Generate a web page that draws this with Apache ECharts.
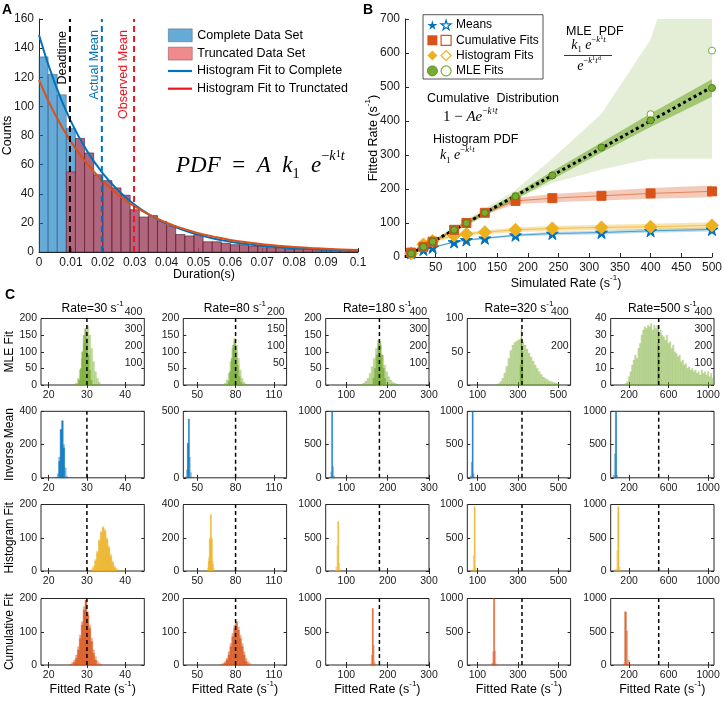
<!DOCTYPE html>
<html><head><meta charset="utf-8"><title>Deadtime figure</title>
<script src="https://cdn.jsdelivr.net/npm/echarts@6.0.0/dist/echarts.min.js"></script>
<style>html,body{margin:0;padding:0;background:#fff}#main{width:725px;height:703px}</style>
</head><body><div id="main"></div>
<script>
// ================= DATA =================
// ---- Panel A : duration histograms ----
const aBinStart = 0;
const aBinWidth = 0.002857;
const aComplete  = [134,122,108,85,78,68,53,49,44,39,29,24,25,21,18,12,11,12,7,7,6,5,5,4,4,3,3,2,2,2,2,1,1,1,1];
const aTruncated = [0,0,0,55,78,68,53,49,44,39,29,24,25,21,18,12,11,12,7,7,6,5,5,4,4,3,3,2,2,2,2,1,1,1,1];
const aFitT = [0,0.005,0.01,0.015,0.02,0.025,0.03,0.035,0.04,0.045,0.05,0.055,0.06,0.065,0.07,0.075,0.08,0.085,0.09,0.095,0.1];
const aFitComplete  = [149,115.6,89.7,69.6,54.0,41.9,32.5,25.2,19.6,15.2,11.8,9.1,7.1,5.5,4.3,3.3,2.6,2.0,1.6,1.2,0.9];
const aFitTruncated = [118,94.6,75.8,60.8,48.7,39.0,31.3,25.1,20.1,16.1,12.9,10.4,8.3,6.7,5.4,4.3,3.4,2.8,2.2,1.8,1.4];
const aDeadtime = 0.0097, aActualMean = 0.0197, aObservedMean = 0.0298;

// ---- Panel B : fitted vs simulated rate ----
const bRates   = [10,30,45,80,100,130,180,240,320,400,500];
const bMeans   = [12,22,28,44,50,55,64,69,72,77,81];
const bMeansLo = [10,20,26,41,47,52,60,64,67,71,75];
const bMeansHi = [14,24,30,47,53,58,68,74,77,83,87];
const bCum     = [13,30,45,80,100,130,165,173,180,187,193];
const bCumLo   = [11,27,42,76,95,124,156,161,166,171,176];
const bCumHi   = [15,33,48,84,105,136,174,185,194,203,210];
const bHist    = [10,37,47,63,68,73,80,84,87,89,93];
const bHistLo  = [7,33,43,58,63,67,73,77,79,80,82];
const bHistHi  = [13,41,51,68,73,79,87,91,95,98,102];
const bMle     = [10,30,45,80,100,130,178,240,322,402,497];
const bMleLo   = [8,27,42,75,94,123,169,228,307,382,471];
const bMleHi   = [12,33,48,85,106,137,187,252,337,422,523];
const bMleHollow = [10,30,45,80,100,130,180,240,322,420,607];
const bMleWideLo = [8,26,40,72,90,120,172,218,257,289,289];
const bMleWideHi = [12,34,50,88,110,142,197,290,421,640,1185];
const bIdentity = [[0,0],[500,500]];

// ---- Panel C : fitted-rate histograms ----
const cRates  = [30,80,180,320,500];
const cXMin   = [18,39,50,50,14];
const cXMax   = [45,120,300,560,1060];
const cXTicks = [[20,30,40],[50,80,110],[100,200,300],[100,300,500],[200,600,1000]];
const cRowNames = ['MLE Fit','Inverse Mean','Histogram Fit','Cumulative Fit'];
const cYMax  = [[200,200,200,100,40],[400,500,1000,1000,1000],[200,400,1000,1000,1000],[200,200,1000,1000,1000]];
const cYStep = [[50,50,50,50,10],[200,500,500,500,500],[100,200,500,500,500],[100,100,500,500,500]];
const mleRightMax  = [400,200,400,400,400];
const mleRightStep = [100,50,100,200,100];

// MLE row (light = broad estimator, dark = narrow estimator)
const mleStartL = [27,71,135,200,160];
const mleWidthL = [0.5,1.5,5,10,16];
const mleCountsL = [
  [6,20,45,80,125,165,178,150,110,70,40,20,8],
  [5,15,35,70,110,140,120,80,45,20,8,3],
  [3,6,12,20,35,55,80,110,135,120,90,60,40,25,15,8,5,3],
  [2,5,10,18,28,40,52,60,64,66,68,70,65,60,54,48,42,36,30,25,20,16,12,10,8,6,5,4,3,2,1],
  [1,2,5,8,12,15,18,16,22,25,30,33,35,34,36,35,37,33,36,34,36,31,33,30,29,27,30,25,26,22,24,20,19,17,18,14,15,12,13,10,11,9,10,8,9,7,8,6,9,7,8,6,8,5,7,4]
];
const mleStartD = [27.8,74,164,310,488];
const mleWidthD = [0.4,1.2,4,5,6];
const mleCountsD = [
  [15,50,100,150,170,140,90,45,15],
  [10,40,80,120,135,100,60,25,8],
  [20,50,90,125,130,90,50,20],
  [30,84,50],
  [25,36,20]
];
// Inverse mean row
const invStart = [21.8,40.6,59.6,64,38];
const invWidth = [0.4,0.8,2.4,5,12];
const invCountsL = [[5,25,125,290,343,200,60,10],[8,60,260,442,156,40,8],[10,90,1000,170,30],[30,236,1000,60,5],[40,360,1000,40]];
const invCountsD = [[0,0,100,290,343,180,0,0],[0,0,260,442,0,0,0],[0,0,1000,0,0],[0,0,1000,0,0],[0,0,1000,0]];
// Histogram-fit row
const hisStart = [31,57,72,74,62];
const hisWidth = [0.5,0.8,2.4,5,12];
const hisCountsL = [[5,15,35,60,95,120,134,125,100,75,50,30,15,8,4,2,1,1],[5,20,80,200,339,200,60,15,3],[10,60,380,744,120,20],[20,234,965,50,10],[30,311,965,60,8]];
const hisCountsD = [[0,10,30,55,90,115,130,120,95,70,45,25,10,0,0,0,0,0],[0,0,60,190,339,190,40,0,0],[0,0,0,744,0,0],[0,0,965,0,0],[0,0,965,0,0]];
// Cumulative-fit row
const cumStart = [25.5,68,158,170,140];
const cumWidth = [0.5,1.5,2.4,5,16];
const cumCountsL = [[3,8,15,30,55,90,130,175,195,160,120,80,45,25,12,5,2],[2,5,10,20,40,65,95,120,130,115,90,65,40,20,10,5],[20,150,850,300,40],[30,200,1000,210,20],[20,800,510,75,10]];
const cumCountsD = [[0,0,8,20,45,80,120,165,195,150,110,70,35,15,0,0,0],[0,0,5,15,30,55,85,110,130,105,80,55,30,10,0,0],[0,0,850,0,0],[0,0,1000,0,0],[0,800,0,0,0]];

// ================= STYLE / LAYOUT =================
const FONT = "'Liberation Sans', Arial, Helvetica, sans-serif";
const SERIF = "'Liberation Serif', 'DejaVu Serif', 'Times New Roman', serif";
const AX = '#262626';
const BLUE = '#0072BD', ORANGE = '#D95319', YELLOW = '#EDB120', GREEN = '#77AC30', RED = '#F0141E';
const rowColors = [[119,172,48],[0,114,189],[237,177,32],[217,83,25]];
const cLeft = [41,183.3,325.7,467.3,610.7], cW = 103.3;
const cTop = [318.5,411.3,504.5,598.5], cH = 66.5;

const grid = [], xAxis = [], yAxis = [], series = [], graphic = [];
const plainNum = v => String(v);

function axisBase(fs) {
  return {
    axisLine: {show: true, onZero: false, lineStyle: {color: AX, width: 1}},
    axisTick: {show: true, inside: true, length: 4, lineStyle: {color: AX, width: 1}},
    axisLabel: {color: '#1a1a1a', fontSize: fs, fontFamily: FONT, margin: 5, formatter: plainNum},
    splitLine: {show: false}
  };
}
function histData(start, width, counts) {
  return counts.map((c, i) => [start + i * width, start + (i + 1) * width, c]);
}
function histRender(fill, stroke, lw) {
  return function (params, api) {
    const c = api.value(2);
    if (!c) return null;
    const p0 = api.coord([api.value(0), 0]);
    const p1 = api.coord([api.value(1), c]);
    return {type: 'rect', shape: {x: p0[0], y: p1[1], width: p1[0] - p0[0], height: p0[1] - p1[1]},
      style: {fill: fill, stroke: stroke, lineWidth: lw}};
  };
}
function histSeries(name, xi, yi, start, width, counts, fill, stroke, lw, z) {
  return {type: 'custom', name: name, xAxisIndex: xi, yAxisIndex: yi, z: z, silent: true,
    itemStyle: {color: fill}, encode: {x: [0, 1], y: 2},
    data: histData(start, width, counts), renderItem: histRender(fill, stroke, lw)};
}
function rgba(c, a) { return 'rgba(' + c[0] + ',' + c[1] + ',' + c[2] + ',' + a + ')'; }
function textEl(x, y, text, o) {
  o = o || {};
  const st = Object.assign({text: text, fill: o.fill || '#000', fontSize: o.fontSize || 12,
    fontFamily: o.fontFamily || FONT, fontWeight: o.fontWeight || 'normal', fontStyle: o.fontStyle || 'normal',
    textAlign: o.align || 'center', textVerticalAlign: o.valign || 'middle',
    align: o.align || 'center', verticalAlign: o.valign || 'middle'}, o.rich ? {rich: o.rich} : {});
  return {type: 'text', x: x, y: y, rotation: o.rotation || 0, z: 100, style: st};
}
const unitRich = {
  b: {fontSize: 12.5, fontFamily: FONT, lineHeight: 16, verticalAlign: 'bottom'},
  p: {fontSize: 8, fontFamily: FONT, lineHeight: 10, verticalAlign: 'top'}
};
const mathRich = (fs) => ({
  m: {fontSize: fs, fontFamily: SERIF, fontStyle: 'italic', lineHeight: fs * 1.45, verticalAlign: 'middle'},
  r: {fontSize: fs, fontFamily: SERIF, lineHeight: fs * 1.45, verticalAlign: 'middle'},
  s: {fontSize: fs * 0.62, fontFamily: SERIF, lineHeight: fs * 0.62, verticalAlign: 'bottom', padding: [0, 0, fs * 0.05, 0]},
  p: {fontSize: fs * 0.62, fontFamily: SERIF, fontStyle: 'italic', lineHeight: fs * 0.62, verticalAlign: 'top'},
  pr: {fontSize: fs * 0.62, fontFamily: SERIF, lineHeight: fs * 0.62, verticalAlign: 'top'},
  ps: {fontSize: fs * 0.45, fontFamily: SERIF, lineHeight: fs * 0.95, verticalAlign: 'top'}
});

// ================= PANEL A =================
grid.push({left: 39, top: 19, width: 319, height: 233});
xAxis.push(Object.assign(axisBase(12), {gridIndex: 0, type: 'value', min: 0, max: 0.1, interval: 0.01}));
xAxis[0].axisLabel.formatter = v => String(Math.round(v * 100) / 100);
yAxis.push(Object.assign(axisBase(12), {gridIndex: 0, type: 'value', min: 0, max: 160, interval: 20}));

series.push(histSeries('Complete Data Set', 0, 0, aBinStart, aBinWidth, aComplete, 'rgba(0,114,189,0.6)', 'rgba(20,40,70,0.55)', 0.6, 2));
series.push(histSeries('Truncated Data Set', 0, 0, aBinStart, aBinWidth, aTruncated, 'rgba(229,54,58,0.58)', 'rgba(60,10,20,0.55)', 0.6, 3));
series.push({type: 'line', name: 'Histogram Fit to Complete', xAxisIndex: 0, yAxisIndex: 0, z: 5, smooth: true, symbol: 'none',
  lineStyle: {color: BLUE, width: 2}, itemStyle: {color: BLUE}, data: aFitT.map((t, i) => [t, aFitComplete[i]])});
series.push({type: 'line', name: 'Histogram Fit to Trunctated', xAxisIndex: 0, yAxisIndex: 0, z: 6, smooth: true, symbol: 'none',
  lineStyle: {color: ORANGE, width: 2}, itemStyle: {color: ORANGE}, data: aFitT.map((t, i) => [t, aFitTruncated[i]])});
[[aDeadtime, '#000'], [aActualMean, BLUE], [aObservedMean, RED]].forEach(d => {
  series.push({type: 'line', xAxisIndex: 0, yAxisIndex: 0, z: 7, symbol: 'none', silent: true,
    lineStyle: {color: d[1], width: 2, type: [6, 4]}, data: [[d[0], 0], [d[0], 160]]});
});
graphic.push(textEl(62.5, 31, 'Deadtime', {rotation: Math.PI / 2, align: 'right', fontSize: 12.5}));
graphic.push(textEl(94.5, 30, 'Actual Mean', {rotation: Math.PI / 2, align: 'right', fontSize: 12.5, fill: BLUE}));
graphic.push(textEl(123.5, 30, 'Observed Mean', {rotation: Math.PI / 2, align: 'right', fontSize: 12.5, fill: RED}));
graphic.push(textEl(176, 166, '{m|PDF}{r|  =  }{m|A  k}{s|1}{m|  e}{pr|−}{p|k}{ps|1}{p|t}', {align: 'left', rich: mathRich(23), fontSize: 23}));
graphic.push(textEl(8, 135.5, 'Counts', {rotation: Math.PI / 2, fontSize: 12.5}));
graphic.push(textEl(204, 275, 'Duration(s)', {fontSize: 12.5}));
graphic.push(textEl(7, 10, 'A', {fontSize: 14, fontWeight: 'bold'}));

// ================= PANEL B =================
grid.push({left: 405, top: 19, width: 308, height: 238});
xAxis.push(Object.assign(axisBase(12), {gridIndex: 1, type: 'value', min: 0, max: 500, interval: 50}));
xAxis[1].axisLabel.showMinLabel = false;
yAxis.push(Object.assign(axisBase(12), {gridIndex: 1, type: 'value', min: 0, max: 700, interval: 100}));

function bandSeries(lo, hi, fill, z) {
  return {type: 'custom', xAxisIndex: 1, yAxisIndex: 1, z: z, silent: true, clip: true,
    encode: {x: 0, y: [1, 2]},
    data: bRates.map((x, i) => [x, lo[i], hi[i]]),
    renderItem: function (params, api) {
      if (params.dataIndexInside !== 0) return null;
      const n = params.dataInsideLength, top = [], bot = [];
      for (let i = 0; i < n; i++) {
        const x = api.value(0, i);
        top.push(api.coord([x, api.value(2, i)]));
        bot.push(api.coord([x, api.value(1, i)]));
      }
      return {type: 'polygon', shape: {points: top.concat(bot.reverse())}, style: {fill: fill}};
    }};
}
series.push(bandSeries(bMleWideLo, bMleWideHi, 'rgba(119,172,48,0.2)', 1));
series.push(bandSeries(bMeansLo, bMeansHi, 'rgba(0,114,189,0.25)', 2));
series.push(bandSeries(bHistLo, bHistHi, 'rgba(237,177,32,0.35)', 2));
series.push(bandSeries(bCumLo, bCumHi, 'rgba(217,83,25,0.3)', 2));
series.push(bandSeries(bMleLo, bMleHi, 'rgba(119,172,48,0.6)', 2));
function bLine(vals, color, z) {
  return {type: 'line', xAxisIndex: 1, yAxisIndex: 1, z: z, symbol: 'none', silent: true,
    lineStyle: {color: color, width: 1}, data: bRates.map((x, i) => [x, vals[i]])};
}
series.push(bLine(bMeans, 'rgba(0,114,189,0.6)', 3));
series.push(bLine(bHist, 'rgba(237,177,32,0.7)', 3));
series.push(bLine(bCum, 'rgba(217,83,25,0.6)', 3));
series.push({type: 'line', xAxisIndex: 1, yAxisIndex: 1, z: 4, symbol: 'none', silent: true,
  lineStyle: {color: '#000', width: 3, type: [3, 3]}, data: bIdentity});
const STAR = 'path://M50,0 L61,35 L98,35 L68,57 L79,91 L50,70 L21,91 L32,57 L2,35 L39,35 Z';
function bScatter(name, vals, symbol, size, fill, stroke, z) {
  return {type: 'scatter', name: name, xAxisIndex: 1, yAxisIndex: 1, z: z, symbol: symbol, symbolSize: size, silent: true,
    itemStyle: {color: fill, borderColor: stroke, borderWidth: 1, opacity: 1},
    data: vals ? bRates.map((x, i) => [x, vals[i]]) : []};
}
series.push(bScatter('Means', bMeans, STAR, 12, BLUE, BLUE, 6));
series.push(bScatter('Histogram Fits', bHist, 'diamond', 13, YELLOW, YELLOW, 6));
series.push(bScatter('Cumulative Fits', bCum, 'rect', 9, ORANGE, ORANGE, 7));
series.push(bScatter('MLE Fits', bMle, 'circle', 7, GREEN, '#4f7f1d', 8));
series.push(bScatter('Means (o)', null, STAR, 12, '#fff', BLUE, 9));
series.push(bScatter('Cumulative Fits (o)', null, 'rect', 9, '#fff', ORANGE, 9));
series.push(bScatter('Histogram Fits (o)', null, 'diamond', 12, '#fff', YELLOW, 9));
series.push(bScatter('MLE Fits (o)', bMleHollow, 'circle', 7, '#fff', GREEN, 5));

graphic.push({type: 'rect', z: 50, shape: {x: 423, y: 14.7, width: 120, height: 64.3},
  style: {fill: '#fff', stroke: AX, lineWidth: 0.8}});
graphic.push(textEl(566, 31.7, 'MLE  PDF', {align: 'left', fontSize: 12.5}));
graphic.push(textEl(588.5, 45, '{m|k}{s|1}{m| e}{pr|−}{p|k}{ps|1}{p|t}', {rich: mathRich(14), fontSize: 14}));
graphic.push({type: 'line', z: 100, shape: {x1: 564, y1: 55.5, x2: 612, y2: 55.5}, style: {stroke: '#000', lineWidth: 0.8}});
graphic.push(textEl(589, 66, '{m|e}{pr|−}{p|k}{ps|1}{p|t}{ps|d}', {rich: mathRich(14), fontSize: 14}));
graphic.push(textEl(427, 98.7, 'Cumulative  Distribution', {align: 'left', fontSize: 12.5}));
graphic.push(textEl(443, 117.5, '{r|1 − }{m|Ae}{pr|−}{p|k}{ps|1}{p|t}', {align: 'left', rich: mathRich(15), fontSize: 15}));
graphic.push(textEl(433, 140, 'Histogram PDF', {align: 'left', fontSize: 12.5}));
graphic.push(textEl(440, 155.5, '{m|k}{s|1}{m| e}{pr|−}{p|k}{ps|1}{p|t}', {align: 'left', rich: mathRich(14), fontSize: 14}));
graphic.push(textEl(566, 282, '{b|Simulated Rate (s}{p|-1}{b|)}', {rich: unitRich, fontSize: 12.5}));
graphic.push(textEl(372, 138, '{b|Fitted Rate (s}{p|-1}{b|)}', {rotation: Math.PI / 2, rich: unitRich, fontSize: 12.5}));
graphic.push(textEl(368, 10, 'B', {fontSize: 14, fontWeight: 'bold'}));

// ================= PANEL C =================
const rowStart = [mleStartL, invStart, hisStart, cumStart];
const rowWidth = [mleWidthL, invWidth, hisWidth, cumWidth];
const rowL = [mleCountsL, invCountsL, hisCountsL, cumCountsL];
const rowDStart = [mleStartD, invStart, hisStart, cumStart];
const rowDWidth = [mleWidthD, invWidth, hisWidth, cumWidth];
const rowD = [mleCountsD, invCountsD, hisCountsD, cumCountsD];

for (let r = 0; r < 4; r++) {
  for (let c = 0; c < 5; c++) {
    grid.push({left: cLeft[c], top: cTop[r], width: cW, height: cH, show: true,
      borderColor: AX, borderWidth: 1, backgroundColor: 'rgba(0,0,0,0)'});
  }
}
for (let c = 0; c < 5; c++) {
  grid.push({left: cLeft[c], top: 312, width: cW, height: 68});
}
for (let r = 0; r < 4; r++) {
  for (let c = 0; c < 5; c++) {
    const gi = 2 + r * 5 + c;
    const xa = Object.assign(axisBase(10.5), {gridIndex: gi, type: 'value', min: cXMin[c], max: cXMax[c]});
    xa.axisLine.show = false;
    xa.axisTick = {show: true, inside: true, length: 3, lineStyle: {color: AX}, customValues: cXTicks[c]};
    xa.axisLabel.customValues = cXTicks[c];
    xa.axisLabel.margin = 5;
    xAxis.push(xa);
    const ya = Object.assign(axisBase(10.5), {gridIndex: gi, type: 'value', min: 0, max: cYMax[r][c], interval: cYStep[r][c]});
    ya.axisLine.show = false;
    ya.axisTick.length = 3;
    ya.axisLabel.margin = 4;
    yAxis.push(ya);
  }
}
for (let r = 0; r < 4; r++) {
  for (let c = 0; c < 5; c++) {
    const gi = 2 + r * 5 + c;
    xAxis.push({gridIndex: gi, type: 'value', position: 'top', min: cXMin[c], max: cXMax[c],
      axisLine: {show: false}, splitLine: {show: false},
      axisTick: {show: true, inside: true, length: 3, lineStyle: {color: AX}, customValues: cXTicks[c]},
      axisLabel: {show: false, customValues: cXTicks[c]}});
    yAxis.push({gridIndex: gi, type: 'value', position: 'right', min: 0, max: cYMax[r][c], interval: cYStep[r][c],
      axisLine: {show: false}, splitLine: {show: false},
      axisTick: {show: true, inside: true, length: 3, lineStyle: {color: AX}}, axisLabel: {show: false}});
  }
}
for (let c = 0; c < 5; c++) {
  xAxis.push({gridIndex: 22 + c, type: 'value', show: false, min: 0, max: 1});
  yAxis.push({gridIndex: 22 + c, type: 'value', position: 'right', min: 0, max: mleRightMax[c], interval: mleRightStep[c],
    axisLine: {show: false}, axisTick: {show: false}, splitLine: {show: false},
    axisLabel: {inside: true, showMinLabel: false, fontSize: 10.5, fontFamily: FONT, color: '#1a1a1a', margin: 2, formatter: plainNum}});
}
for (let r = 0; r < 4; r++) {
  for (let c = 0; c < 5; c++) {
    const ai = 2 + r * 5 + c;
    const col = rowColors[r];
    series.push(histSeries(null, ai, ai, rowStart[r][c], rowWidth[r][c], rowL[r][c], rgba(col, 0.45), rgba(col, 0.5), 0.3, 2));
    series.push(histSeries(null, ai, ai, rowDStart[r][c], rowDWidth[r][c], rowD[r][c], rgba(col, 0.72), rgba(col, 0.8), 0.3, 3));
    series.push({type: 'line', xAxisIndex: ai, yAxisIndex: ai, z: 5, symbol: 'none', silent: true,
      lineStyle: {color: '#000', width: 1.5, type: [4, 3]},
      data: [[cRates[c], 0], [cRates[c], cYMax[r][c]]]});
  }
}
for (let c = 0; c < 5; c++) {
  const cx = cLeft[c] + cW / 2;
  graphic.push(textEl(cx, 307, '{b|Rate=' + cRates[c] + ' s}{p|-1}', {rich: {
    b: {fontSize: 12, fontFamily: FONT, lineHeight: 15, verticalAlign: 'bottom'},
    p: {fontSize: 8, fontFamily: FONT, lineHeight: 9, verticalAlign: 'top'}}, fontSize: 12}));
  graphic.push(textEl(cx, 688, '{b|Fitted Rate (s}{p|-1}{b|)}', {rich: unitRich, fontSize: 12.5}));
}
for (let r = 0; r < 4; r++) {
  graphic.push(textEl(10, cTop[r] + cH / 2, cRowNames[r], {rotation: Math.PI / 2, fontSize: 12}));
}
graphic.push(textEl(10, 295, 'C', {fontSize: 14, fontWeight: 'bold'}));

// ================= LEGENDS =================
const legTxt = {fontSize: 12.5, fontFamily: FONT, color: '#000'};
const legBText = {fontSize: 12, fontFamily: FONT, lineHeight: 10};
const legends = [
  {left: 168, top: 28.5, padding: 0, orient: 'vertical', itemWidth: 24, itemHeight: 13, itemGap: 4.7, selectedMode: false,
    textStyle: Object.assign({lineHeight: 13}, legTxt),
    data: [
      {name: 'Complete Data Set', icon: 'rect', itemStyle: {color: 'rgba(0,114,189,0.6)', borderColor: 'rgba(20,40,70,0.5)', borderWidth: 0.6}},
      {name: 'Truncated Data Set', icon: 'rect', itemStyle: {color: 'rgba(229,54,58,0.58)', borderColor: 'rgba(60,10,20,0.5)', borderWidth: 0.6}}
    ]},
  {left: 168, top: 63.5, padding: 0, orient: 'vertical', itemWidth: 24, itemHeight: 2.2, itemGap: 2.7, selectedMode: false,
    textStyle: Object.assign({lineHeight: 15}, legTxt),
    data: [
      {name: 'Histogram Fit to Complete', icon: 'rect', itemStyle: {color: BLUE, borderWidth: 0}},
      {name: 'Histogram Fit to Trunctated', icon: 'rect', itemStyle: {color: RED, borderWidth: 0}}
    ]},
  {left: 427, top: 19, padding: 0, orient: 'vertical', itemWidth: 10, itemHeight: 10, itemGap: 3.3, z: 60, selectedMode: false,
    textStyle: Object.assign({color: 'rgba(0,0,0,0)'}, legBText),
    data: [
      {name: 'Means', icon: STAR, itemStyle: {color: BLUE, borderColor: BLUE, borderWidth: 0}},
      {name: 'Cumulative Fits', icon: 'rect', itemStyle: {color: ORANGE, borderColor: ORANGE, borderWidth: 0}},
      {name: 'Histogram Fits', icon: 'diamond', itemStyle: {color: YELLOW, borderColor: YELLOW, borderWidth: 0}},
      {name: 'MLE Fits', icon: 'circle', itemStyle: {color: GREEN, borderColor: '#4f7f1d', borderWidth: 0.8}}
    ]},
  {left: 440.5, top: 19, padding: 0, orient: 'vertical', itemWidth: 10, itemHeight: 10, itemGap: 3.3, z: 61, selectedMode: false,
    textStyle: Object.assign({color: '#000'}, legBText),
    formatter: n => n.replace(' (o)', ''),
    data: [
      {name: 'Means (o)', icon: STAR, itemStyle: {color: '#fff', borderColor: BLUE, borderWidth: 1.2}},
      {name: 'Cumulative Fits (o)', icon: 'rect', itemStyle: {color: '#fff', borderColor: ORANGE, borderWidth: 1.2}},
      {name: 'Histogram Fits (o)', icon: 'diamond', itemStyle: {color: '#fff', borderColor: YELLOW, borderWidth: 1.2}},
      {name: 'MLE Fits (o)', icon: 'circle', itemStyle: {color: '#fff', borderColor: GREEN, borderWidth: 1.2}}
    ]}
];

const chart = echarts.init(document.getElementById('main'), null, {renderer: 'canvas'});
chart.setOption({
  animation: false,
  backgroundColor: '#fff',
  textStyle: {fontFamily: FONT},
  grid: grid, xAxis: xAxis, yAxis: yAxis, series: series,
  legend: legends, graphic: {elements: graphic}
});
</script></body></html>
